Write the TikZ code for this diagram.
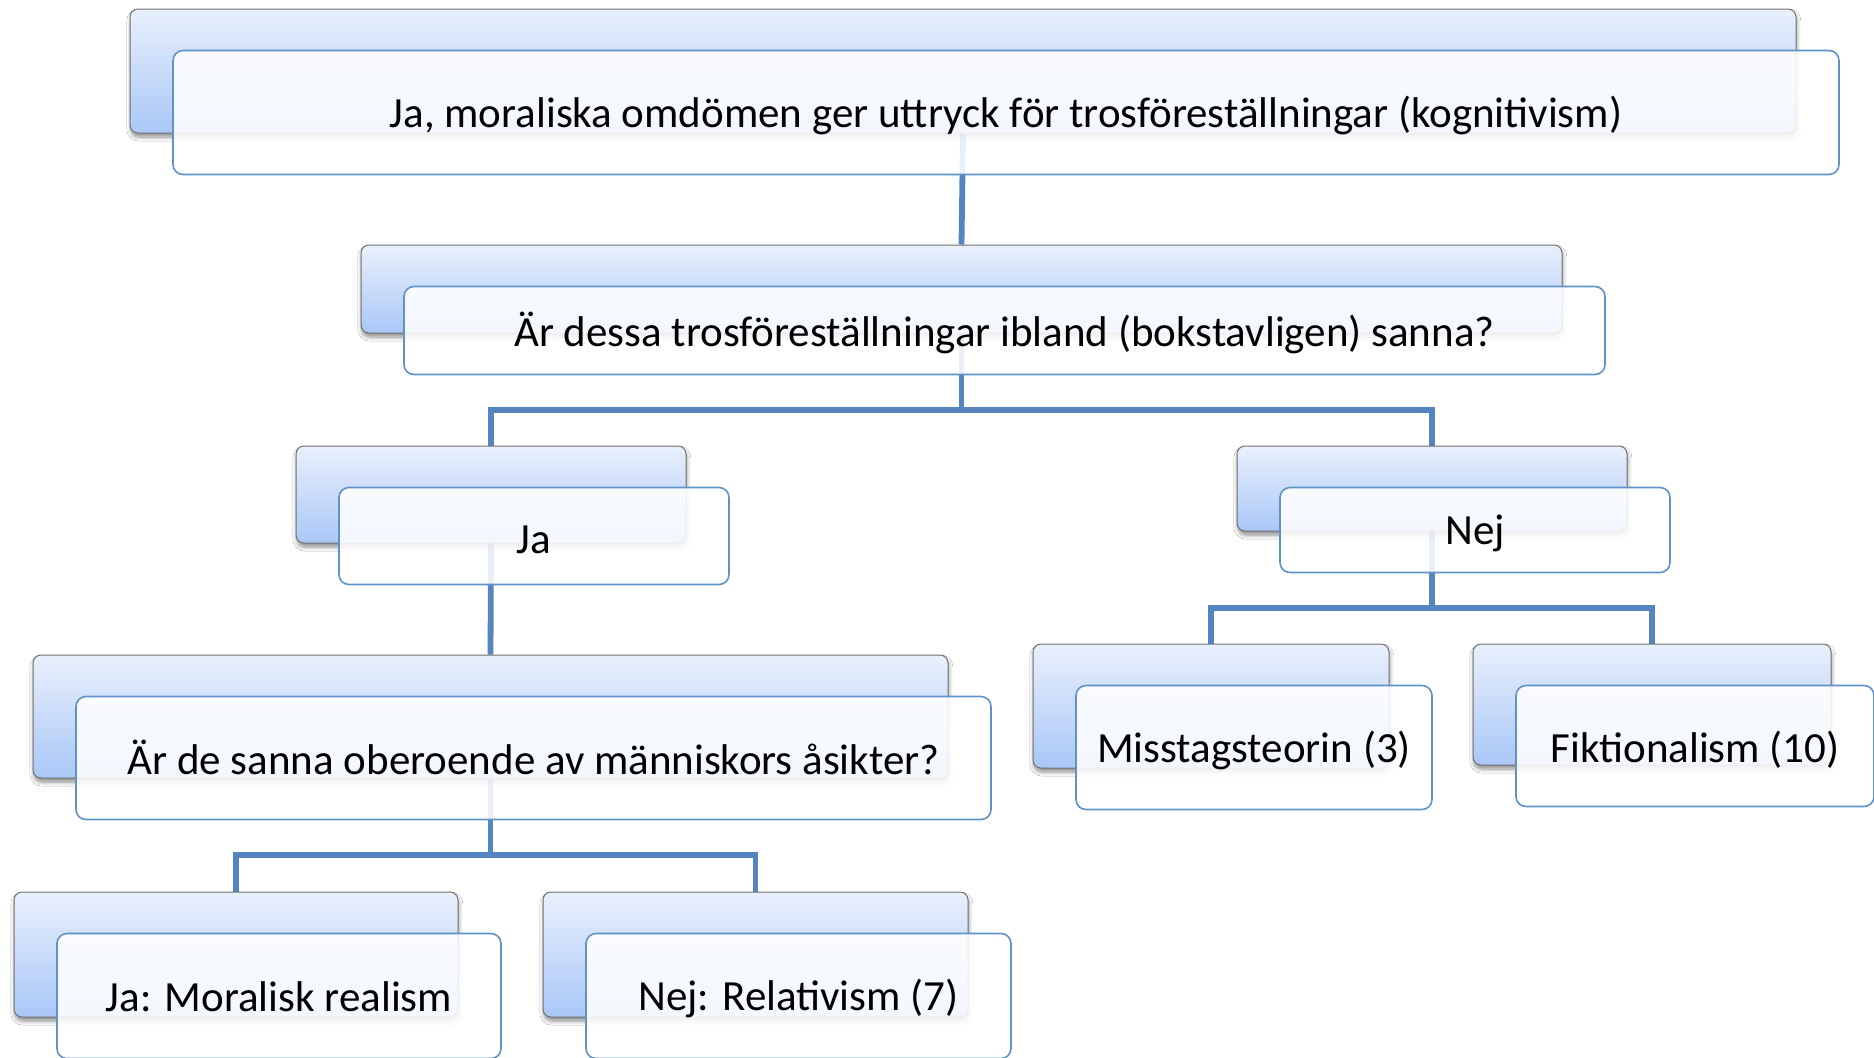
\documentclass[tikz,border=0pt]{standalone}
\usepackage{fontspec}
\setmainfont{Carlito}
\usetikzlibrary{shadows.blur}
\definecolor{conncol}{HTML}{5485C0}
\definecolor{frontline}{HTML}{6092CA}
\definecolor{backline}{HTML}{707070}
\definecolor{backtop}{HTML}{E9F0FC}
\definecolor{backbot}{HTML}{A9C7F7}
\pgfdeclarelayer{bg}
\pgfsetlayers{bg,main}
\tikzset{
  backbox/.style={draw=backline, line width=0.5pt, rounded corners=4pt,
    top color=backtop, bottom color=backbot, inner sep=0pt,
    blur shadow={shadow xshift=0.4pt, shadow yshift=-2pt, shadow blur steps=6, shadow blur radius=2pt, shadow opacity=45}},
  frontbox/.style={draw=frontline, line width=0.8pt, rounded corners=5pt,
    fill=white, fill opacity=0.87, text opacity=1, inner sep=0pt,
    font=\fontsize{21.5}{26}\selectfont, text=black},
  conn/.style={draw=conncol, line width=2.9pt}
}
\newcommand\mkpair[7]{%
  \pgfmathsetmacro\ww{(#4-#2)*0.5}%
  \pgfmathsetmacro\hh{(#5-#3)*0.5}%
  \node[backbox, minimum width=\ww pt, minimum height=\hh pt] (b#1) at ({(#2+#4)/2},{(#3+#5)/2}) {};
  \node[frontbox, minimum width=\ww pt, minimum height=\hh pt] (f#1) at ({(#2+#4)/2+43},{(#3+#5)/2+41.5}) {\raisebox{#7}[\height][\depth]{#6}};
}
\begin{document}
\begin{tikzpicture}[x=0.5pt,y=-0.5pt]
\useasboundingbox (0,0) rectangle (1874,1057);
\mkpair{top}{130}{9}{1796}{133}{Ja, moraliska omdömen ger uttryck för trosföreställningar (kognitivism)}{-1.7pt}
\mkpair{q}{361}{245}{1562}{333}{Är dessa trosföreställningar ibland (bokstavligen) sanna?}{-1.2pt}
\mkpair{ja}{296}{446}{686}{543}{Ja}{-1.7pt}
\mkpair{nej}{1237}{446}{1627}{531}{Nej}{-1.7pt}
\mkpair{sanna}{33}{655}{948}{778}{Är de sanna oberoende av människors åsikter?}{0.3pt}
\mkpair{real}{14}{892}{458}{1017}{Ja: Moralisk realism}{-0.3pt}
\mkpair{rel}{543}{892}{968}{1017}{Nej: Relativism (7)}{-1.2pt}
\mkpair{miss}{1033}{644}{1389}{768}{Misstagsteorin (3)}{-1.7pt}
\mkpair{fikt}{1473}{644}{1831}{765}{Fiktionalism (10)}{-1.7pt}
\coordinate (busq) at (0,410);
\coordinate (busnej) at (0,608);
\coordinate (bussanna) at (0,855);
\begin{pgfonlayer}{bg}
\fill[white] (0,0) rectangle (1874,1057);
\draw[conn] (btop.south) -- (bq.north);
\draw[conn] (bq.south) -- (bq.south |- busq) -| (bja.north);
\draw[conn] (bq.south |- busq) -| (bnej.north);
\draw[conn] (bja.south) -- (bsanna.north);
\draw[conn] (bsanna.south) -- (bsanna.south |- bussanna) -| (breal.north);
\draw[conn] (bsanna.south |- bussanna) -| (brel.north);
\draw[conn] (bnej.south) -- (bnej.south |- busnej) -| (bmiss.north);
\draw[conn] (bnej.south |- busnej) -| (bfikt.north);
\end{pgfonlayer}
\end{tikzpicture}
\end{document}
